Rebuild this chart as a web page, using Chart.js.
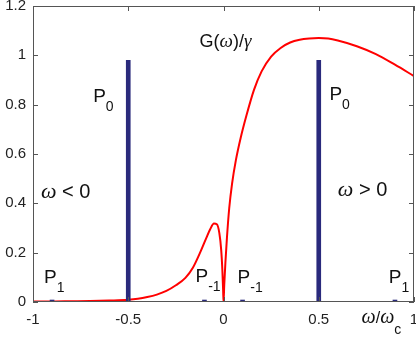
<!DOCTYPE html>
<html>
<head>
<meta charset="utf-8">
<script src="https://cdn.jsdelivr.net/npm/chart.js@4/dist/chart.umd.min.js"></script>
<style>
  html, body { margin: 0; padding: 0; background: #fff; }
</style>
</head>
<body>
<canvas id="chart" width="416" height="339"></canvas>
<script>
// G(w)/gamma curve
const omega = [-1, -0.9, -0.8, -0.7, -0.6, -0.5, -0.45, -0.4, -0.35, -0.3, -0.25, -0.2,
  -0.16, -0.12, -0.09, -0.07, -0.05, -0.035, -0.022, -0.012, -0.006, -0.002, 0,
  0.004, 0.01, 0.018, 0.03, 0.045, 0.065, 0.09, 0.12, 0.16, 0.2, 0.25, 0.3, 0.35,
  0.4, 0.45, 0.5, 0.55, 0.6, 0.7, 0.8, 0.9, 1.0];
const gRatio = [0.002, 0.002, 0.003, 0.004, 0.006, 0.009, 0.013, 0.02, 0.03, 0.045, 0.068, 0.098,
  0.14, 0.205, 0.26, 0.295, 0.318, 0.315, 0.28, 0.21, 0.13, 0.05, 0,
  0.07, 0.16, 0.26, 0.38, 0.48, 0.575, 0.665, 0.755, 0.86, 0.935, 0.995, 1.03, 1.052,
  1.063, 1.068, 1.07, 1.068, 1.06, 1.037, 1.005, 0.962, 0.916];

// P_n weights (bars)
const peakPos = [-0.9, -0.5, -0.1, 0.1, 0.5, 0.9];
const peakWeight = [0.008, 0.98, 0.008, 0.008, 0.98, 0.008];

const xTicks = [-1, -0.5, 0, 0.5, 1];
const yTicks = [0, 0.2, 0.4, 0.6, 0.8, 1, 1.2];

const SANS = '"Liberation Sans", Arial, sans-serif';
const SERIF = '"Liberation Serif", "Times New Roman", serif';

// draws text pieces one after another: [text, font, dy]
function drawRuns(ctx, x, y, runs) {
  let cx = x;
  runs.forEach(([text, font, dy]) => {
    ctx.font = font;
    ctx.fillText(text, cx, y + (dy || 0));
    cx += ctx.measureText(text).width;
  });
}

const frame = {
  id: "frame",
  afterDraw(chart) {
    const { ctx, chartArea: a, scales } = chart;
    ctx.save();
    ctx.strokeStyle = "#555";
    ctx.lineWidth = 1;
    ctx.strokeRect(a.left + 0.5, a.top + 0.5, a.right - a.left - 1, a.bottom - a.top - 1);
    ctx.beginPath();
    xTicks.forEach((v) => {
      const px = Math.round(scales.x.getPixelForValue(v)) + 0.5;
      ctx.moveTo(px, a.bottom); ctx.lineTo(px, a.bottom - 5);
      ctx.moveTo(px, a.top); ctx.lineTo(px, a.top + 5);
    });
    yTicks.forEach((v) => {
      const py = Math.round(scales.y.getPixelForValue(v)) + 0.5;
      ctx.moveTo(a.left, py); ctx.lineTo(a.left + 5, py);
      ctx.moveTo(a.right, py); ctx.lineTo(a.right - 5, py);
    });
    ctx.stroke();
    ctx.restore();
  },
};

const notes = {
  id: "notes",
  afterDatasetsDraw(chart) {
    const { ctx, scales } = chart;
    const X = (v) => scales.x.getPixelForValue(v);
    const Y = (v) => scales.y.getPixelForValue(v);
    ctx.save();
    ctx.fillStyle = "#111";
    ctx.textAlign = "left";
    ctx.textBaseline = "alphabetic";

    const big = "18px " + SANS;
    drawRuns(ctx, X(-0.126), Y(1.034), [
      ["G(", big], ["\u03c9", "italic 19px " + SERIF], [")/", big], ["\u03b3", "italic 19px " + SERIF],
    ]);

    const pMain = "19px " + SANS;
    const pSub = "14px " + SANS;
    const pLabel = (x, y, sub) => drawRuns(ctx, X(x), Y(y), [["P", pMain], [sub, pSub, 9]]);
    pLabel(-0.684, 0.811, "0");
    pLabel(0.556, 0.819, "0");
    pLabel(-0.942, 0.077, "1");
    pLabel(-0.147, 0.081, "-1");
    pLabel(0.074, 0.077, "-1");
    pLabel(0.868, 0.077, "1");

    drawRuns(ctx, X(-0.958), Y(0.42), [["\u03c9", "italic 22px " + SERIF], [" < 0", "20px " + SANS]]);
    drawRuns(ctx, X(0.6), Y(0.43), [["\u03c9", "italic 22px " + SERIF], [" > 0", "20px " + SANS]]);

    drawRuns(ctx, X(0.725), Y(-0.086), [
      ["\u03c9", "italic 20px " + SERIF], ["/", "16px " + SANS], ["\u03c9", "italic 20px " + SERIF],
      ["c", "14px " + SANS, 11],
    ]);
    ctx.restore();
  },
};

const ctx = document.getElementById("chart").getContext("2d");
new Chart(ctx, {
  type: "line",
  data: {
    datasets: [
      {
        type: "bar",
        data: peakPos.map((x, i) => ({ x, y: peakWeight[i] })),
        backgroundColor: "#2a2a7c",
        borderWidth: 0,
        barThickness: 4,
        order: 0,
      },
      {
        type: "line",
        data: omega.map((x, i) => ({ x, y: gRatio[i] })),
        borderColor: "#ff0000",
        borderWidth: 2,
        pointRadius: 0,
        cubicInterpolationMode: "monotone",
        order: 1,
      },
    ],
  },
  options: {
    responsive: false,
    animation: false,
    layout: { padding: { top: 6, right: 2, left: 0, bottom: 0 } },
    plugins: { legend: { display: false }, tooltip: { enabled: false } },
    scales: {
      x: {
        type: "linear",
        min: -1,
        max: 1,
        offset: false,
        grid: { display: false, drawTicks: false },
        border: { display: false },
        afterBuildTicks: (s) => { s.ticks = xTicks.map((value) => ({ value })); },
        afterFit: (s) => { s.height = 37; s.paddingLeft = 0; s.paddingRight = 0; },
        ticks: {
          padding: 9,
          color: "#222",
          font: { family: SANS, size: 15 },
          maxRotation: 0,
          autoSkip: false,
          callback: (v) => String(v),
        },
      },
      y: {
        min: 0,
        max: 1.2,
        grid: { display: false, drawTicks: false },
        border: { display: false },
        afterBuildTicks: (s) => { s.ticks = yTicks.map((value) => ({ value })); },
        afterFit: (s) => { s.width = 33; s.paddingTop = 0; s.paddingBottom = 0; },
        ticks: {
          padding: 7,
          color: "#222",
          font: { family: SANS, size: 15 },
          callback: (v) => String(v),
        },
      },
    },
  },
  plugins: [frame, notes],
});
</script>
</body>
</html>
